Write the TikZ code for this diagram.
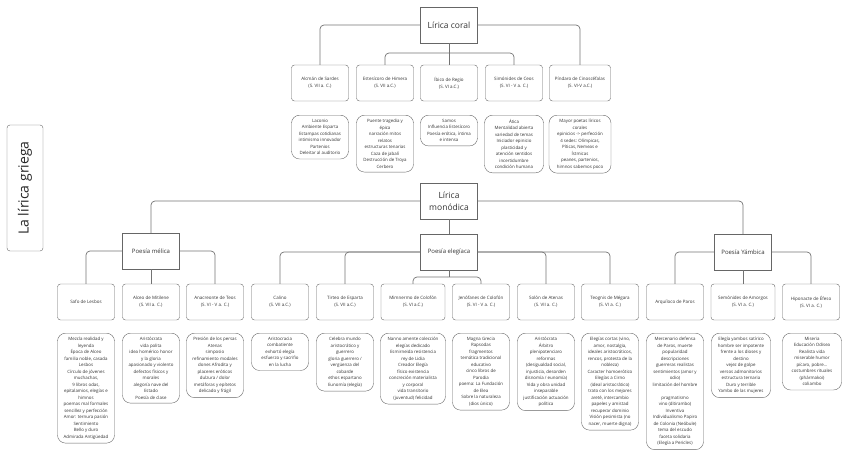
\documentclass[tikz,border=0pt]{standalone}
\usepackage{fontspec}
\setmainfont{Open Sans}
\usepackage{tikz}

\begin{document}
\begin{tikzpicture}[x=1pt, y=-1pt,
	head/.style={rectangle, draw=black!60, fill=white, minimum width=57pt, minimum height=36pt,
		align=center, text=black!80, font=\fontsize{8.5}{12}\selectfont},
	group/.style={head, font=\fontsize{6}{8}\selectfont},
	poet/.style={rectangle, rounded corners=3pt, draw=black!60, minimum width=57pt, minimum height=36pt,
		align=center, text=black!80, font=\fontsize{4.5}{7}\selectfont},
	note/.style={rectangle, rounded corners=8pt, draw=black!60, minimum width=57pt, anchor=north,
		align=center, inner xsep=2pt, inner ysep=4pt, text=black!80, font=\fontsize{4.4}{6.5}\selectfont},
	link/.style={draw=black!55, line width=0.7pt, rounded corners=4pt}
	]
	\useasboundingbox (0,0) rectangle (848,460);
	
	\node[draw=black!60, rounded corners=3pt, rotate=90, minimum width=126pt, minimum height=36pt,
		text=black!85, font=\fontsize{14}{16}\selectfont] (title) at (25,188) {La lírica griega};
	
	% lirica coral
	\node[head] (coral) at (449,25) {Lírica coral};
	\node[poet] (alcman) at (320,83) {Alcmán de Sardes\\(S. VII a. C.)};
	\node[poet] (estes) at (385,83) {Estesícoro de Himera\\(S. VII a.C.)};
	\node[poet] (ibico) at (449,83) {Íbico de Regio\\(S. VI a.C.)};
	\node[poet] (simon) at (514,83) {Simónides de Ceos\\(S. VI - V a. C.)};
	\node[poet, minimum width=61pt] (pindaro) at (580,83) {Píndaro de Cinoscéfalas\\(S. VI-V a.C.)};
	
	\coordinate (cj) at (449,53);
	\draw[link] (coral.west) -| (alcman.north);
	\draw[link] (coral.east) -| (pindaro.north);
	\draw[link] (coral.south) -- (cj);
	\draw[link] (cj) -| (estes.north);
	\draw[link] (cj) -| (simon.north);
	\draw[link] (cj) -- (ibico.north);
	
	\node[note] (alcmann) at (320,115) {Laconio\\Ambiente Esparta\\Estampas cotidianas\\intimismo innovador\\Partenios\\Deleitar al auditorio};
	\node[note] (estesn) at (385,115) {Puente tragedia y\\épica\\narración mitos\\relatos\\estructuras tenarias\\Caza de jabalí\\Destrucción de Troya\\Cerbero};
	\node[note] (ibicon) at (449,115) {Samos\\Influencia Estesícoro\\Poesía erótica, íntima\\e intensa};
	\node[note, minimum width=59pt] (simonn) at (514,115) {Ática\\Mentalidad abierta\\variedad de temas\\Iniciador epinicio\\plasticidad y\\atención sentidos\\incertidumbre\\condición humana};
	\node[note, minimum width=62pt] (pindaron) at (580,115) {Mayor poetas líricos\\corales\\epinicios -> perfección\\4 sedes: Olímpicas,\\Píticas, Nemeas e\\Ístmicas\\peanes, partenios,\\himnos sabemos poco};
	
	% lirica monodica
	\node[head] (monod) at (449,201) {Lírica\\monódica};
	\node[group] (melica) at (151,251) {Poesía mélica};
	\node[group] (eleg) at (449,252) {Poesía elegíaca};
	\node[group] (yamb) at (743,252) {Poesía Yámbica};
	
	\draw[link] (monod.west) -| (melica.north);
	\draw[link] (monod.east) -| (yamb.north);
	\draw[link] (monod.south) -- (eleg.north);
	
	\node[poet] (safo) at (86,302) {Safo de Lesbos};
	\node[poet] (alceo) at (151,302) {Alceo de Mitilene\\(S. VII a. C.)};
	\node[poet] (anacr) at (215,302) {Anacreonte de Teos\\(S. VI - V a. C.)};
	\node[poet] (calino) at (280,302) {Calino\\(S. VII a.C.)};
	\node[poet] (tirteo) at (345,302) {Tirteo de Esparta\\(S. VII a.C.)};
	\node[poet, minimum width=64pt] (mimn) at (413,302) {Mimnermo de Colofón\\(S. VI a.C.)};
	\node[poet] (jenof) at (481,302) {Jenófanes de Colofón\\(S. VI - V a. C.)};
	\node[poet] (solon) at (546,302) {Solón de Atenas\\(S. VII a. C.)};
	\node[poet] (teogn) at (610,302) {Teognis de Mégara\\(S. VI a. C.)};
	\node[poet] (arqui) at (675,302) {Arquíloco de Paros};
	\node[poet, minimum width=64pt] (semon) at (743,302) {Semónides de Amorgos\\(S. VI a. C.)};
	\node[poet] (hipon) at (811,302) {Hiponacte de Éfeso\\(S. VI a. C.)};
	
	\draw[link] (melica.west) -| (safo.north);
	\draw[link] (melica.east) -| (anacr.north);
	\draw[link] (melica.south) -- (alceo.north);
	
	\coordinate (ej) at (447,277);
	\draw[link] (eleg.west) -| (calino.north);
	\draw[link] (tirteo.north) |- (eleg.west);
	\draw[link] (eleg.east) -| (teogn.north);
	\draw[link] (solon.north) |- (eleg.east);
	\draw[link] (eleg.south) -- (eleg.south |- ej);
	\draw[link] (ej) -| (mimn.north);
	\draw[link] (ej) -| (jenof.north);
	
	\draw[link] (yamb.west) -| (arqui.north);
	\draw[link] (yamb.east) -| (hipon.north);
	\draw[link] (yamb.south) -- (semon.north);
	
	\node[note] (safon) at (86,333) {Mezcla realidad y\\leyenda\\Época de Alceo\\familia noble, casada\\Lesbos\\Círculo de jóvenes\\muchachas,\\9 libros odas,\\epitalamios, elegías e\\himnos\\poemas mal formales\\sencillez y perfección\\Amor: ternura pasión\\Sentimiento\\Bello y duro\\Admirada Antigüedad};
	\node[note] (alceon) at (151,333) {Aristócrata\\vida polita\\idea homérico honor\\y la gloria\\apasionado y violento\\defectos físicos y\\morales\\alegoría nave del\\Estado\\Poesía de clase};
	\node[note] (anacrn) at (215,333) {Presión de los persas\\Atenas\\simposio\\refinamiento modales\\dones Afrodita y\\placeres eróticos\\dulzura / dolor\\metáforas y epítetos\\delicado y frágil};
	\node[note] (calinon) at (280,333) {Aristocracia\\combatiente\\exhortó elegía\\esfuerzo y sacrifio\\en la lucha};
	\node[note] (tirteon) at (345,333) {Celebra mundo\\aristocrático y\\guerrero\\gloria guerrero /\\vergüenza del\\cobarde\\ethos espartano\\Eunomía (elegía)};
	\node[note, minimum width=65pt] (mimnn) at (413,333) {Nanno amente colección\\elegías dedicado\\Esmirneida resistencia\\rey de Lidia\\Creador Elegía\\físico existencia\\concreción materialista\\y corporal\\vida transitorio\\(juventud) felicidad};
	\node[note] (jenofn) at (481,333) {Magna Grecia\\Rapsodas\\fragmentos\\temática tradicional\\educativo\\cinco libros de\\Parodia\\poema: La Fundación\\de Elea\\Sobre la naturaleza\\(dios único)};
	\node[note] (solonn) at (546,333) {Aristócrata\\Árbitro\\plenipotenciaro\\reformas\\(desigualdad social,\\injusticia, desorden\\disnomía / eunomía)\\Vida y obra unidad\\inseparable\\justificación actuación\\política};
	\node[note] (teognn) at (610,333) {Elegías cortas (vino,\\amor, nostalgia,\\ideales aristocráticos,\\rencos, protesta de la\\nobleza)\\Caracter homoerótico\\Elegías a Cirno\\(ideal aristocrático)\\trato con los mejores\\areté, intercambio\\papeles y amistad\\recuperar dominio\\Visión pesimista (no\\nacer, muerte digna)};
	\node[note] (arquin) at (675,333) {Mercenario defensa\\de Paros, muerte\\popularidad\\descripciones\\guerreras realistas\\sentimientos (amor y\\odio)\\limitación del hombre\\[6.5pt]pragmatismo\\vino (ditirambo)\\Inventiva\\Individualismo Papiro\\de Colonia (Neóbule)\\tema del escudo\\faceta solidaria\\(Elegía a Pericles)};
	\node[note, minimum width=59pt] (semonn) at (741,333) {Elegía yambos satírico\\hombre ser impotente\\frente a los dioses y\\destino\\vejez de golpe\\versos admonitorios\\estructura ternaria\\Duro y terrible\\Yambo de las mujeres};
	\node[note, minimum width=59pt] (hiponn) at (812,333) {Miseria\\Educación Odisea\\Realista vida\\miserable humor\\pícaro, pobre...\\costumbres rituales\\(phármakoi)\\coliambo};
\end{tikzpicture}
\end{document}
